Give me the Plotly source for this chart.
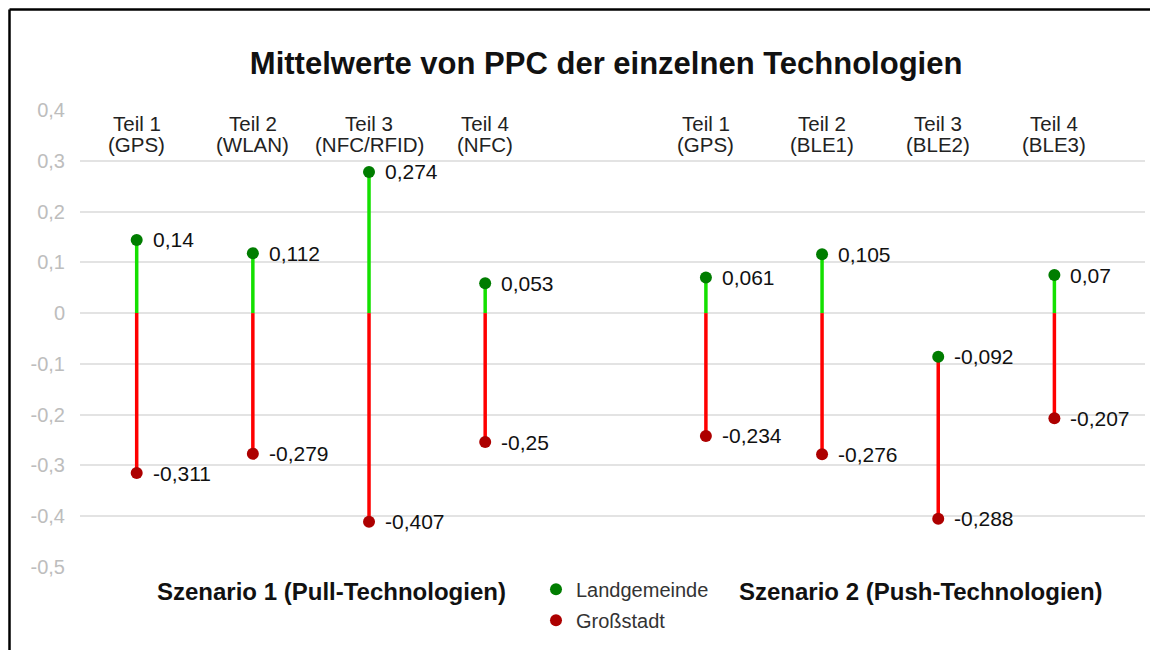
import plotly.graph_objects as go

# ---- data ----
teil = ["Teil 1", "Teil 2", "Teil 3", "Teil 4", "Teil 1", "Teil 2", "Teil 3", "Teil 4"]
technologie = ["(GPS)", "(WLAN)", "(NFC/RFID)", "(NFC)", "(GPS)", "(BLE1)", "(BLE2)", "(BLE3)"]
szenario = [1, 1, 1, 1, 2, 2, 2, 2]
landgemeinde = [0.144, 0.118, 0.278, 0.059, 0.070, 0.116, -0.086, 0.075]
grossstadt = [-0.315, -0.277, -0.411, -0.254, -0.242, -0.278, -0.405, -0.207]
label_land = ["0,14", "0,112", "0,274", "0,053", "0,061", "0,105", "-0,092", "0,07"]
label_gross = ["-0,311", "-0,279", "-0,407", "-0,25", "-0,234", "-0,276", "-0,288", "-0,207"]
szenario_titel = ["Szenario 1 (Pull-Technologien)", "Szenario 2 (Push-Technologien)"]
y_ticks = [0.4, 0.3, 0.2, 0.1, 0, -0.1, -0.2, -0.3, -0.4, -0.5]
y_ticktext = ["0,4", "0,3", "0,2", "0,1", "0", "-0,1", "-0,2", "-0,3", "-0,4", "-0,5"]

GAP = 0.9
xs = [i + (GAP if s == 2 else 0) for i, s in enumerate(szenario)]

GREEN_LINE = "#14e000"
RED_LINE = "#ff0000"
GREEN_DOT = "#007d00"
RED_DOT = "#ad0000"
FONT = "Liberation Sans, Arial, sans-serif"

W, H = 1150, 650
ML, MR, MT, MB = 72, 13, 102, 91
PW, PH = W - ML - MR, H - MT - MB

# segments
gx, gy, rx, ry = [], [], [], []
for x, g, r in zip(xs, landgemeinde, grossstadt):
    if g > 0:
        gx += [x, x, None]
        gy += [0, g, None]
    top = min(0, g)
    rx += [x, x, None]
    ry += [top, r, None]

fig = go.Figure()
fig.add_trace(go.Scatter(x=gx, y=gy, mode="lines", line=dict(color=GREEN_LINE, width=3.5),
                         showlegend=False, hoverinfo="skip"))
fig.add_trace(go.Scatter(x=rx, y=ry, mode="lines", line=dict(color=RED_LINE, width=3.5),
                         showlegend=False, hoverinfo="skip"))
fig.add_trace(go.Scatter(x=xs, y=landgemeinde, mode="markers", name="Landgemeinde",
                         marker=dict(color=GREEN_DOT, size=12), legendgroup="a"))
fig.add_trace(go.Scatter(x=xs, y=grossstadt, mode="markers", name="Großstadt",
                         marker=dict(color=RED_DOT, size=12), legendgroup="b"))

# data labels
for x, v, t in zip(xs, landgemeinde, label_land):
    fig.add_annotation(x=x, y=v, text=t, showarrow=False, xanchor="left", yanchor="middle",
                       xshift=14, font=dict(size=21, color="#111111", family=FONT))
for x, v, t in zip(xs, grossstadt, label_gross):
    fig.add_annotation(x=x, y=v, text=t, showarrow=False, xanchor="left", yanchor="middle",
                       xshift=14, font=dict(size=21, color="#111111", family=FONT))

# category labels at top (two lines)
for x, t1, t2 in zip(xs, teil, technologie):
    fig.add_annotation(x=x, y=0.373, text=t1, showarrow=False, xanchor="center", yanchor="middle",
                       font=dict(size=20.5, color="#222222", family=FONT))
    fig.add_annotation(x=x, y=0.332, text=t2, showarrow=False, xanchor="center", yanchor="middle",
                       font=dict(size=20.5, color="#222222", family=FONT))

# scenario titles
for px, t in zip([0.2357, 0.7897], szenario_titel):
    fig.add_annotation(x=px, y=-0.0547, xref="paper", yref="paper", text="<b>%s</b>" % t,
                       showarrow=False, xanchor="center", yanchor="middle",
                       font=dict(size=24, color="#111111", family=FONT))

# outer frame: left edge and top edge
fx0 = (1.5 - ML) / PW
fy1 = (PH + MT - 1.5) / PH
fig.add_shape(type="line", xref="paper", yref="paper", x0=fx0, x1=fx0,
              y0=(PH + MT - (H - 8)) / PH, y1=fy1, line=dict(color="black", width=2.5), layer="above")
fig.add_shape(type="line", xref="paper", yref="paper", x0=fx0, x1=(W - 8 - ML) / PW,
              y0=fy1, y1=fy1, line=dict(color="black", width=2.5), layer="above")

fig.update_layout(
    width=W, height=H,
    margin=dict(l=ML, r=MR, t=MT, b=MB),
    paper_bgcolor="white", plot_bgcolor="white",
    title=dict(text="<b>Mittelwerte von PPC der einzelnen Technologien</b>",
               x=0.494, xref="paper", xanchor="center", y=1 - 55 / H, yanchor="middle",
               font=dict(size=31, color="#111111", family=FONT)),
    font=dict(family=FONT),
    xaxis=dict(range=[-0.488, 8.68], showgrid=False, zeroline=False, showticklabels=False,
               showline=False, ticks=""),
    yaxis=dict(range=[-0.5, 0.4], tickvals=y_ticks, ticktext=y_ticktext,
               showgrid=True, gridcolor="#e3e3e3", gridwidth=2,
               zeroline=True, zerolinecolor="#e3e3e3", zerolinewidth=2,
               showline=False, ticks="", ticklabelstandoff=14,
               tickfont=dict(size=20, color="#bdbdbd", family=FONT)),
    legend=dict(x=(528 - ML) / PW, xanchor="left", y=-0.006, yanchor="top",
                font=dict(size=20, color="#333333", family=FONT),
                bgcolor="rgba(0,0,0,0)", tracegroupgap=2, traceorder="grouped"),
    showlegend=True,
)

fig.write_html("out.html")
